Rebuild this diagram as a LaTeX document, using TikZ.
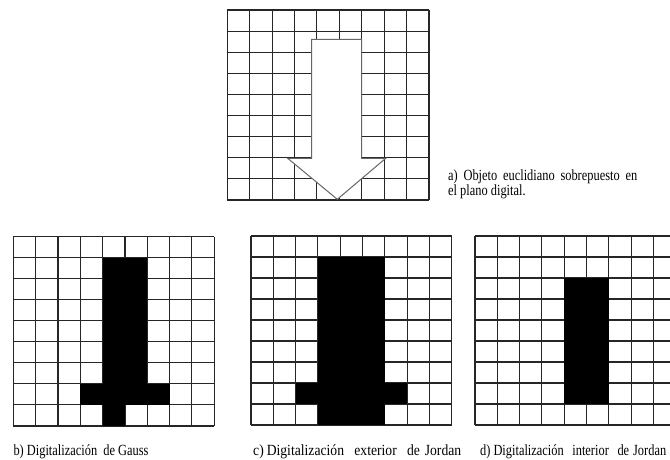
\documentclass[tikz,border=0pt]{standalone}
\usepackage{fontspec}
\setmainfont{Liberation Serif}
\newfontfamily\capfont[FakeStretch=0.8]{Liberation Serif}
\newfontfamily\capfontw[FakeStretch=0.88]{Liberation Serif}
\newcommand\mygrid[4]{%
  \foreach \i in {0,...,9}{%
    \draw[gridline] ({#1+\i*#3},#2) -- ({#1+\i*#3},{#2+9*#4});
    \draw[gridline] (#1,{#2+\i*#4}) -- ({#1+9*#3},{#2+\i*#4});
  }}
% x0 y0 dx dy c1 c2 r1 r2
\newcommand\myfill[8]{%
  \fill[black] ({#1+#5*#3},{#2+#7*#4}) rectangle ({#1+(#6+1)*#3},{#2+(#8+1)*#4});}
\newcommand\dsp{\hspace{3pt plus 3pt}}
\begin{document}
\begin{tikzpicture}[x=1pt,y=-1pt,
  gridline/.style={draw=black!85,line width=1.1pt},
  arrowshape/.style={fill=white,draw=black!60,line width=1pt,line join=miter},
  caption/.style={font=\capfont\fontsize{15.5}{15.5}\selectfont,inner sep=0pt,text=black},
  captionw/.style={font=\capfontw\fontsize{15.5}{15.5}\selectfont,inner sep=0pt,text=black}]
\useasboundingbox (0,0) rectangle (670,459);
\fill[white] (0,0) rectangle (670,459);
% a) top grid
\mygrid{227.3}{10}{22.41}{21.11}
\draw[arrowshape] (311.7,39.3) -- (361.7,39.3) -- (361.7,158.3) -- (385.7,158.3)
  -- (337.3,199.3) -- (287.7,158.3) -- (311.7,158.3) -- cycle;
\node[caption,anchor=base west] (capa) at (448,180)
  {\parbox[t]{189pt}{a) Objeto euclidiano sobrepuesto en\linebreak el plano digital.}};
% b) Gauss
\mygrid{13.3}{236.7}{22.33}{21.03}
\myfill{13.3}{236.7}{22.33}{21.03}{4}{5}{1}{7}
\myfill{13.3}{236.7}{22.33}{21.03}{3}{6}{7}{7}
\myfill{13.3}{236.7}{22.33}{21.03}{4}{4}{8}{8}
\node[caption,anchor=base west] (capb) at (13.3,455)
  {\makebox[135pt][s]{b) Digitalización\dsp{} de Gauss}};
% c) exterior Jordan
\mygrid{251}{236}{22.3}{21}
\myfill{251}{236}{22.3}{21}{3}{5}{1}{8}
\myfill{251}{236}{22.3}{21}{2}{6}{7}{7}
\node[captionw,anchor=base west] (capc) at (253,455)
  {\makebox[208pt][s]{c)\hspace{3pt}Digitalización\dsp{} exterior\dsp{} de Jordan}};
% d) interior Jordan
\mygrid{475}{236}{22.3}{21}
\myfill{475}{236}{22.3}{21}{4}{5}{2}{7}
\node[caption,anchor=base west] (capd) at (480,455)
  {\makebox[186pt][s]{d)\hspace{3pt}Digitalización\dsp{} interior\dsp{} de Jordan}};
\end{tikzpicture}
\end{document}
